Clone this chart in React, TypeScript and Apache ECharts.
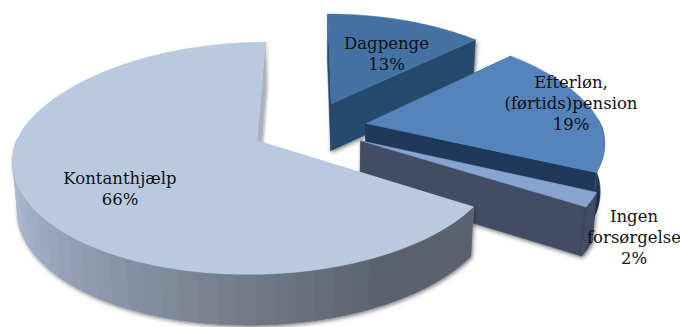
import { useEffect, useRef } from "react";
import * as echarts from "echarts";

// Share of people by income source, drawn clockwise from 12 o'clock.
const categories = ["Dagpenge", "Efterløn,\n(førtids)pension", "Ingen\nforsørgelse", "Kontanthjælp"];
const percentages = [13, 19, 2, 66];

// Centre of each label block, in pixels.
const labelAnchors = [
  [386.5, 53.5],
  [571, 103],
  [634, 237.5],
  [120, 188.5],
];

const palette = [
  { top: "#4472a3", start: "#27486e", end: "#27486e", wall: "#27486e" },
  { top: "#5484bb", start: "#20395a", end: "#20395a", wall: "#20395a" },
  { top: "#86a4cf", start: "#434e65", end: "#434e65", wall: "#434e65" },
  { top: "#b9cae0", start: "#b9cae0", end: "#aab2bf", wall: "" },
];

// Camera of the tilted pie: vanishing axis, scales and perspective strength.
const VIEW = { xv: 309, yc: 127.6, A: 236, B: 109.5, u: 0.148, explode: 0.246, depth: 47.5, shrink: 0.985 };

type Pt = [number, number];

// Project a point of the pie's plane (y pointing at the viewer) onto the page.
function project(wx: number, wy: number, bottom: boolean): Pt {
  const s = 1 / (1 - VIEW.u * wy);
  const x = VIEW.A * wx * s * (1 + 0.035 * Math.min(0, wy));
  const y = VIEW.yc + VIEW.B * wy * s;
  if (!bottom) return [VIEW.xv + x, y];
  return [VIEW.xv + x * VIEW.shrink, y + VIEW.depth * (1 + 0.35 * (s - 1))];
}

function lerpHex(a: string, b: string, t: number) {
  const c = (h: string, i: number) => parseInt(h.slice(1 + i * 2, 3 + i * 2), 16);
  const p = [0, 1, 2].map((i) => Math.round(c(a, i) + (c(b, i) - c(a, i)) * t));
  return `rgb(${p[0]},${p[1]},${p[2]})`;
}

// Outer wall colour of the largest slice: dark at the front right, lighter towards the left.
function bandColor(deg: number) {
  const t = Math.max(0, Math.min(1, (deg - 150) / 100));
  return lerpHex("#5b626d", "#aab9d2", t);
}

const SHADOW = { shadowBlur: 4, shadowColor: "rgba(0,0,0,0.55)", shadowOffsetX: 1, shadowOffsetY: 1.5 };
const SOFT_SHADOW = { shadowBlur: 3, shadowColor: "rgba(0,0,0,0.4)", shadowOffsetX: 1, shadowOffsetY: 0 };

// Drop shadows for the start cut, end cut and outer wall of each slice.
const shadows = [
  [SOFT_SHADOW, SHADOW, {}],
  [{}, {}, {}],
  [{}, SHADOW, SHADOW],
  [{}, SOFT_SHADOW, SHADOW],
];

function renderSlice(params: any, api: any) {
  const i = params.dataIndex;
  const value = api.value(0);
  const total = percentages.reduce((a, b) => a + b, 0);
  const before = percentages.slice(0, i).reduce((a, b) => a + b, 0);
  const startDeg = (before / total) * 360;
  const endDeg = startDeg + (value / total) * 360;
  const midRad = (((startDeg + endDeg) / 2) * Math.PI) / 180;
  const ox = VIEW.explode * Math.sin(midRad);
  const oy = -VIEW.explode * Math.cos(midRad);

  const rim = (deg: number, bottom: boolean) => {
    const r = (deg * Math.PI) / 180;
    return project(ox + Math.sin(r), oy - Math.cos(r), bottom);
  };
  const apexTop = project(ox, oy, false);
  const apexBottom = project(ox, oy, true);
  const colors = palette[i];
  const [startShadow, endShadow, wallShadow] = shadows[i];
  const children: any[] = [];

  const poly = (points: Pt[], fill: string, extra: object = {}) =>
    children.push({ type: "polygon", shape: { points }, style: { fill, stroke: fill, lineWidth: 0.5, ...extra } });

  poly([apexTop, rim(startDeg, false), rim(startDeg, true), apexBottom], colors.start, startShadow);
  poly([apexTop, rim(endDeg, false), rim(endDeg, true), apexBottom], colors.end, endShadow);

  // Only the part of the outer wall that faces the viewer is drawn.
  const wallFrom = Math.max(startDeg, 88);
  const wallTo = Math.min(endDeg, 272);
  if (wallTo > wallFrom) {
    const upper: Pt[] = [];
    const lower: Pt[] = [];
    for (let d = wallFrom; d <= wallTo + 0.001; d += Math.min(1, (wallTo - wallFrom) / 2)) {
      upper.push(rim(d, false));
      lower.push(rim(d, true));
    }
    poly([...upper, ...lower.reverse()], colors.wall || "#808a9c", wallShadow);
    if (!colors.wall) {
      for (let d = wallFrom; d < wallTo; d += 4) {
        const e = Math.min(d + 4.3, wallTo);
        const n = 4;
        const up: Pt[] = [];
        const lo: Pt[] = [];
        for (let k = 0; k <= n; k++) {
          const a = d + ((e - d) * k) / n;
          up.push(rim(a, false));
          lo.push(rim(a, true));
        }
        poly([...up, ...lo.reverse()], bandColor(d));
      }
    }
  }

  const arc: Pt[] = [apexTop];
  const steps = Math.ceil(endDeg - startDeg);
  for (let k = 0; k <= steps; k++) arc.push(rim(startDeg + ((endDeg - startDeg) * k) / steps, false));
  poly(arc, colors.top);

  children.push({
    type: "text",
    z2: 10,
    style: {
      text: `${categories[i]}\n${value}%`,
      x: labelAnchors[i][0],
      y: labelAnchors[i][1],
      textAlign: "center",
      textVerticalAlign: "middle",
      font: '16.5px "DejaVu Serif"',
      lineHeight: 21,
      fill: "#111111",
    },
  });

  return { type: "group", silent: true, children };
}

export default function App() {
  const ref = useRef<HTMLDivElement>(null);

  useEffect(() => {
    const chart = echarts.init(ref.current!, undefined, { renderer: "svg" });
    chart.setOption({
      animation: false,
      backgroundColor: "#ffffff",
      series: [
        {
          type: "custom",
          coordinateSystem: "none",
          renderItem: renderSlice,
          data: percentages.map((v) => [v]),
          silent: true,
        },
      ],
    });
    return () => chart.dispose();
  }, []);

  return <div ref={ref} style={{ position: "absolute", left: 0, top: 0, width: 680, height: 327 }} />;
}
